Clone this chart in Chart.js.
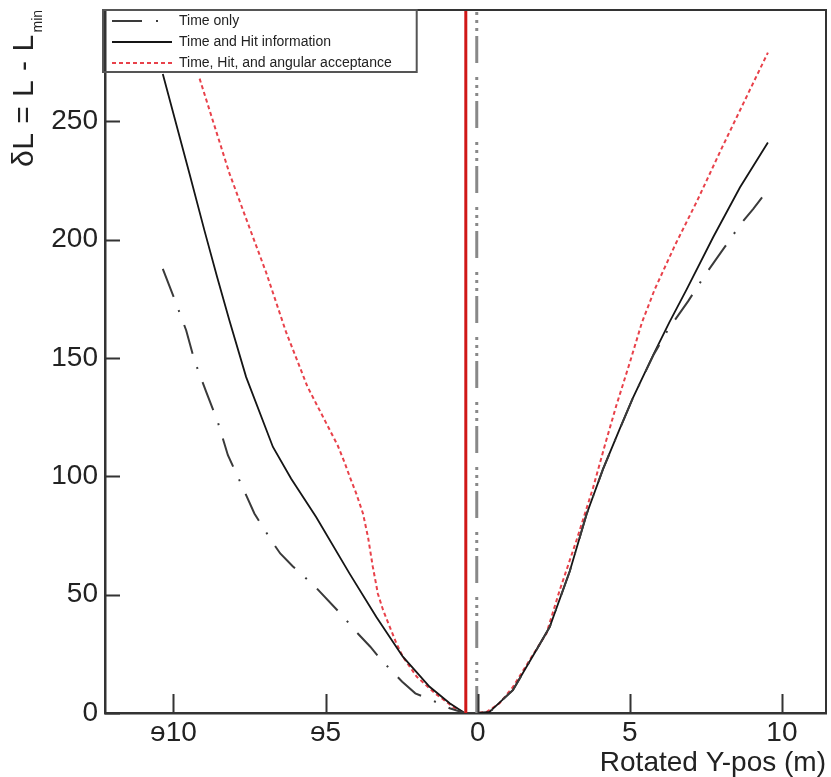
<!DOCTYPE html>
<html>
<head>
<meta charset="utf-8">
<script src="https://cdn.jsdelivr.net/npm/chart.js@4.4.1/dist/chart.umd.min.js"></script>
<style>
  html, body { margin: 0; padding: 0; background: #fff; }
  #wrap { width: 831px; height: 777px; position: relative; }
</style>
</head>
<body>
<div id="wrap"><canvas id="chart"></canvas></div>
<script>
// axis ranges
const xRange = [-12.25, 11.45];
const yRange = [0, 297];

const seriesNames = ['Time only', 'Time and Hit information', 'Time, Hit, and angular acceptance'];

// Time only (dash-dot)
const timeOnlyX = [-10.35, -9.97, -9.58, -9.31, -8.92, -8.54, -8.21, -7.83, -7.34, -6.79, -6.49, -6.08,
  -5.36, -4.56, -3.94, -3.53, -3.17, -2.48, -2.05, -1.52, -0.92, -0.43,
  0, 0.4, 1.16, 1.93, 2.37, 3.03, 3.58, 4.12, 4.67, 5.1, 5.77, 6.26, 6.59, 6.92, 7.47, 7.8, 8.13, 8.67, 9.06, 9.54];
const timeOnlyY = [187.6, 175, 161.6, 148.9, 135.6, 122.9, 108.9, 98.3, 84.3, 73, 67.4, 62,
  53.6, 42.7, 33.6, 28, 22.4, 13.2, 8.3, 5.5, 2, 0,
  0, 0.5, 9.7, 26.6, 36.4, 60, 84, 103, 120, 133, 151, 162, 168, 174, 185, 191, 197, 207, 213, 221];

// Time and Hit information (solid)
const timeHitX = [-10.35, -9.47, -8.98, -8.56, -8.16, -7.61, -6.73, -6.13, -5.31, -4.21, -3.33, -2.46, -1.58, -0.92, -0.43,
  0, 0.39, 1.16, 1.93, 2.37, 3.03, 3.58, 4.12, 4.67, 5.1, 5.8, 6.3, 6.87, 7.74, 8.62, 9.54];
const timeHitY = [270, 227.7, 203.8, 184, 165.8, 141.9, 112.4, 99, 82.8, 58.9, 40.6, 23.8, 11.1, 4.1, 0,
  0, 0.5, 9.7, 26.6, 36.4, 60, 84, 103, 120, 133, 152, 165, 179, 201, 222, 241];

// Time, Hit, and angular acceptance (red dotted)
const timeHitAngX = [-9.14, -8.16, -7.5, -6.95, -6.3, -5.6, -5.0, -4.6, -4.38, -4.21, -3.99, -3.77, -3.6, -3.45, -3.28,
  -3.11, -2.89, -2.67, -2.46, -2.0, -1.4, -0.8, -0.43,
  0, 0.3, 0.72, 1.16, 1.71, 2.26, 2.7, 3.25, 3.79, 4.2, 4.56, 5.0, 5.4, 5.82, 6.5, 7.2, 8.0, 8.75, 9.54];
const timeHitAngY = [268, 228, 205, 186, 161, 138, 123, 113, 106, 100, 92.7, 84.3, 74, 62, 50.4,
  43.5, 36.4, 29.4, 23.8, 15.3, 8.3, 2.5, 0,
  0, 0.5, 4.1, 11, 22.4, 33.6, 52, 73, 95, 114, 130, 148, 165, 179, 198, 216, 238, 258, 279];

// vertical markers: red solid and grey dashed
const redMarkerX = -0.39;
const greyMarkerX = -0.03;

const pts = (xs, ys) => xs.map((x, i) => ({ x: x, y: ys[i] }));
const vline = x => [{ x: x, y: yRange[0] }, { x: x, y: yRange[1] }];

const FONT = '"Liberation Sans", Arial, Helvetica, sans-serif';
const AXIS = '#333';

// ROOT-style inward ticks, top/right frame, legend frame and y title
const frameTicks = {
  id: 'frameTicks',
  afterDraw(chart) {
    const { ctx, chartArea: a, scales: { x, y } } = chart;
    ctx.save();
    ctx.strokeStyle = AXIS;
    ctx.lineWidth = 2;
    ctx.beginPath();
    x.ticks.forEach(t => {
      const px = Math.round(x.getPixelForValue(t.value)) + 0.5;
      const len = t.value % 5 === 0 ? 19 : 10;
      ctx.moveTo(px, a.bottom);
      ctx.lineTo(px, a.bottom - len);
    });
    y.ticks.forEach(t => {
      const py = Math.round(y.getPixelForValue(t.value)) + 0.5;
      const len = t.value % 50 === 0 ? 15 : 9;
      ctx.moveTo(a.left, py);
      ctx.lineTo(a.left + len, py);
    });
    ctx.stroke();
    ctx.beginPath();
    ctx.moveTo(a.left, a.top);
    ctx.lineTo(a.right, a.top);
    ctx.lineTo(a.right, a.bottom);
    ctx.stroke();

    const hb = chart.legend && chart.legend.legendHitBoxes;
    if (hb && hb.length) {
      const last = hb[hb.length - 1];
      const r = Math.max(...hb.map(b => b.left + b.width)) + 25;
      const b = last.top + last.height + 2;
      ctx.strokeStyle = '#555';
      ctx.lineWidth = 2;
      ctx.strokeRect(a.left - 2, a.top, r - a.left + 2, b - a.top);
    }

    ctx.fillStyle = '#222';
    ctx.translate(33, 167);
    ctx.rotate(-Math.PI / 2);
    ctx.textBaseline = 'alphabetic';
    ctx.font = '30px ' + FONT;
    ctx.letterSpacing = '0.5px';
    const main = 'δL = L - L';
    ctx.fillText(main, 0, 0);
    const w = ctx.measureText(main).width;
    ctx.letterSpacing = '0px';
    ctx.font = '14px ' + FONT;
    ctx.fillText('min', w + 2, 9);
    ctx.restore();
  }
};

const legendLabels = chart => Chart.defaults.plugins.legend.labels.generateLabels(chart).map(item => {
  const ds = chart.data.datasets[item.datasetIndex];
  item.lineDash = ds.borderDash || [];
  item.lineWidth = ds.borderWidth;
  item.strokeStyle = ds.borderColor;
  return item;
});

new Chart(document.getElementById('chart'), {
  type: 'scatter',
  data: {
    datasets: [
      { label: 'marker', data: vline(redMarkerX), showLine: true, borderColor: '#d01818', borderWidth: 3, pointRadius: 0 },
      { label: 'true', data: vline(greyMarkerX), showLine: true, borderColor: '#888', borderWidth: 3,
        borderDash: [27, 5, 3, 5, 3, 5, 3, 14], pointRadius: 0 },
      { label: seriesNames[0], data: pts(timeOnlyX, timeOnlyY), showLine: true, borderColor: '#3a3a3a',
        borderWidth: 2, borderDash: [30, 14, 2, 14], pointRadius: 0 },
      { label: seriesNames[1], data: pts(timeHitX, timeHitY), showLine: true, borderColor: '#151515',
        borderWidth: 1.8, pointRadius: 0 },
      { label: seriesNames[2], data: pts(timeHitAngX, timeHitAngY), showLine: true, borderColor: '#e8414a',
        borderWidth: 2, borderDash: [4, 3], pointRadius: 0 }
    ]
  },
  options: {
    responsive: true,
    maintainAspectRatio: false,
    animation: false,
    layout: { padding: { left: 0, right: 5, top: 10, bottom: 0 } },
    plugins: {
      tooltip: { enabled: false },
      legend: {
        position: 'chartArea',
        align: 'start',
        title: { display: true, text: '', padding: 0, font: { size: 7, lineHeight: 1 } },
        labels: {
          generateLabels: legendLabels,
          filter: item => item.datasetIndex >= 2,
          usePointStyle: true,
          pointStyle: 'line',
          pointStyleWidth: 60,
          padding: 7,
          color: '#222',
          font: { family: FONT, size: 14 }
        }
      }
    },
    scales: {
      x: {
        type: 'linear',
        min: xRange[0],
        max: xRange[1],
        grid: { display: false, drawTicks: false },
        border: { color: AXIS, width: 2.5 },
        afterFit: s => { s.height = 64; s.paddingLeft = 0; s.paddingRight = 0; },
        ticks: {
          stepSize: 1,
          includeBounds: false,
          autoSkip: false,
          maxRotation: 0,
          padding: 3,
          color: '#222',
          font: { family: FONT, size: 28 },
          callback: v => v % 5 === 0 ? (v < 0 ? 'ɘ' + (-v) : String(v)) : null
        },
        title: {
          display: true,
          text: 'Rotated Y-pos (m)',
          align: 'end',
          color: '#222',
          padding: 0,
          font: { family: FONT, size: 28, lineHeight: 1 }
        }
      },
      y: {
        min: yRange[0],
        max: yRange[1],
        grid: { display: false, drawTicks: false },
        border: { color: AXIS, width: 2.5 },
        afterFit: s => { s.width = 105; s.paddingTop = 0; s.paddingBottom = 0; },
        ticks: {
          stepSize: 10,
          includeBounds: false,
          autoSkip: false,
          padding: 7,
          color: '#222',
          font: { family: FONT, size: 28 },
          callback: v => v % 50 === 0 ? String(v) : null
        }
      }
    }
  },
  plugins: [frameTicks]
});
</script>
</body>
</html>
